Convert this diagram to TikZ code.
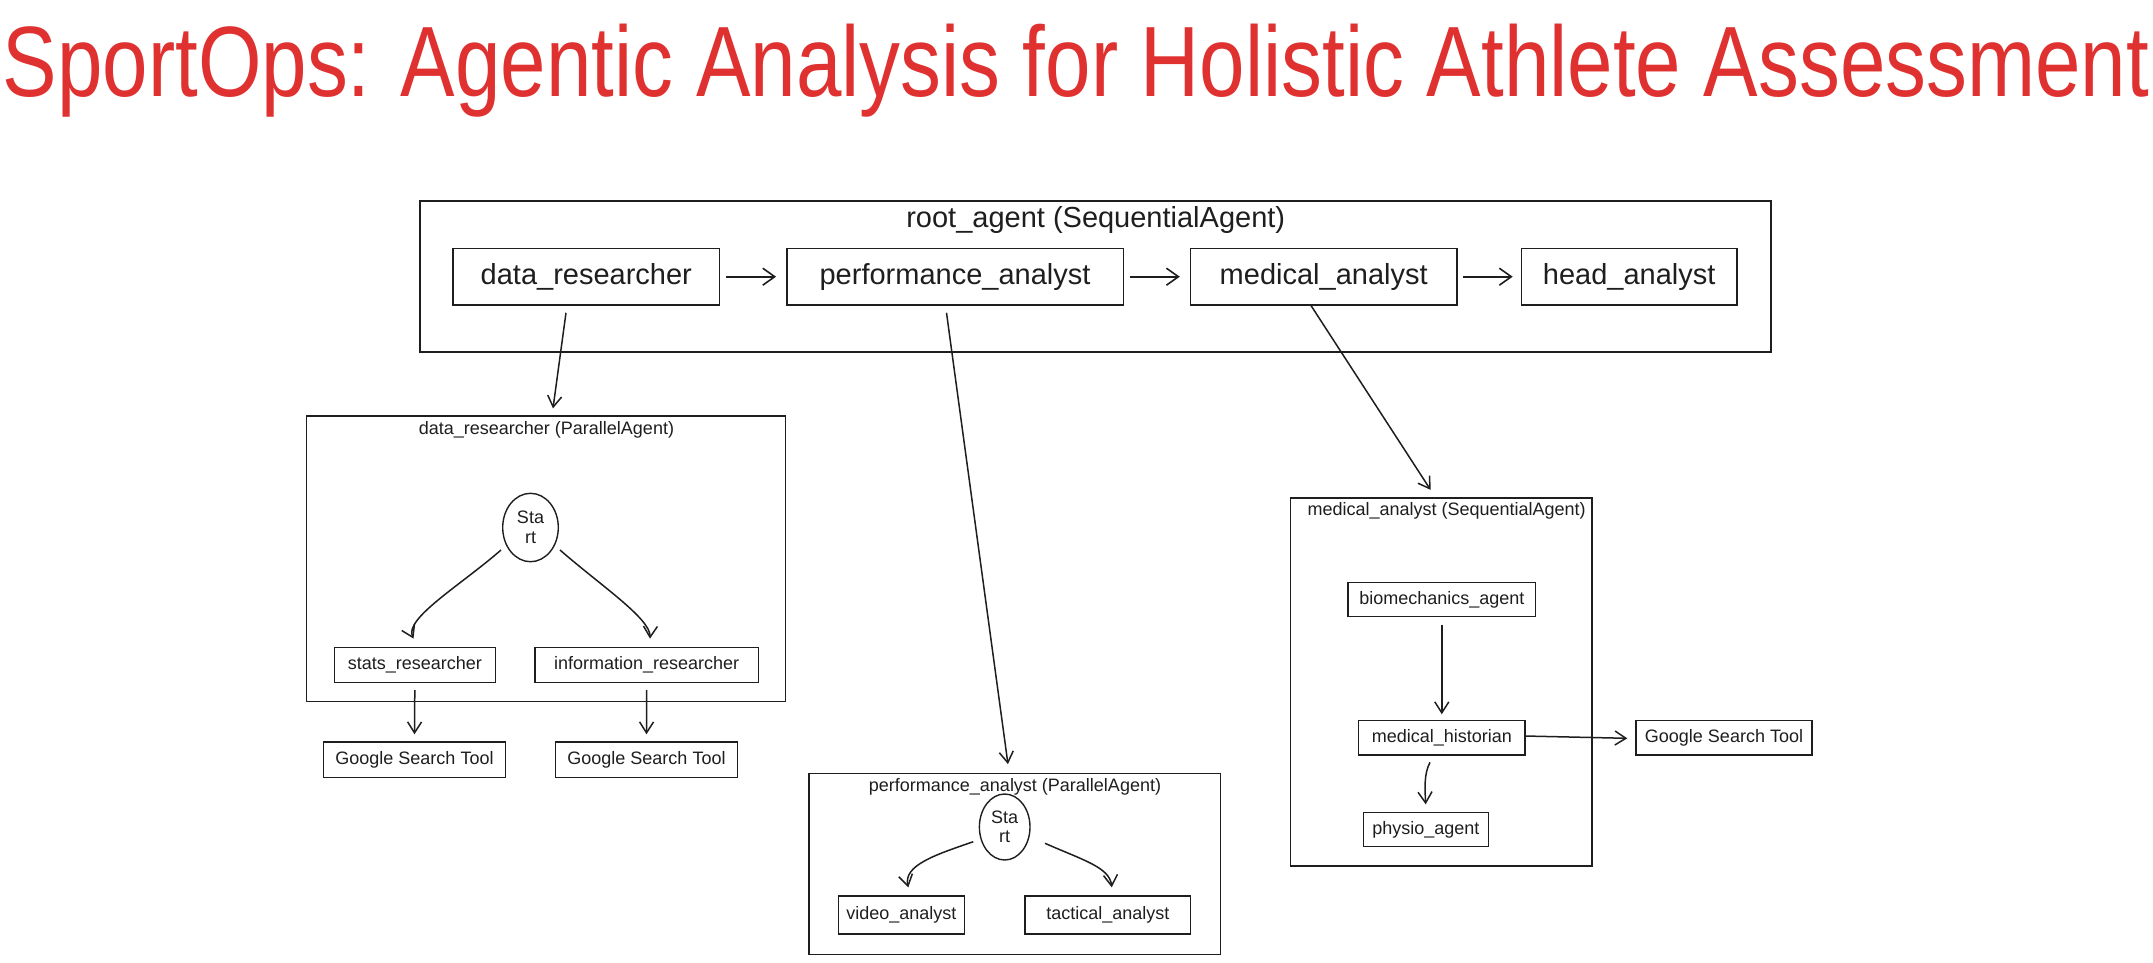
\documentclass[tikz,border=0pt]{standalone}
\usepackage{fontspec}
\usepackage{graphicx}
\setmainfont{Liberation Sans}
\usetikzlibrary{arrows.meta,calc,shapes.geometric}
\definecolor{exred}{RGB}{224,49,49}
\definecolor{ink}{RGB}{30,30,30}
\begin{document}
\begin{tikzpicture}[x=1pt,y=-1pt,
  every node/.style={text=ink},
  box/.style={draw=ink, line width=1.4pt, inner sep=0pt, anchor=center},
  big/.style={font=\fontsize{29}{32}\selectfont},
  small/.style={font=\fontsize{18}{20}\selectfont},
  startnode/.style={ellipse, draw=ink, line width=1.4pt, inner sep=0pt, align=center, font=\fontsize{18}{19.5}\selectfont},
  arr/.style={draw=ink, line width=1.6pt, -{Straight Barb[length=12pt,width=17pt,line width=1.6pt]}},
  sarr/.style={draw=ink, line width=1.5pt, -{Straight Barb[length=11pt,width=14pt,line width=1.5pt]}}
]
\useasboundingbox (0,0) rectangle (2153,962);

% title
\node[anchor=base, text=exred, inner sep=0pt] (title) at (1076,96)
  {\scalebox{0.817}[1]{\fontsize{100}{100}\selectfont SportOps: Agentic Analysis for Holistic Athlete Assessment}};

% root container
\node[box, line width=2pt, minimum width=1351pt, minimum height=151pt] (root) at (1095.75,276) {};
\node[big] (rootlbl) at (1095.75,220) {root\_agent (SequentialAgent)};
\node[box, big, minimum width=266.4pt, minimum height=56.3pt] (dr1) at (586.3,276.7) {data\_researcher};
\node[box, big, minimum width=336.4pt, minimum height=56.3pt] (pa1) at (955,276.7) {performance\_analyst};
\node[box, big, minimum width=266.4pt, minimum height=56.3pt] (ma1) at (1323.7,276.7) {medical\_analyst};
\node[box, big, minimum width=215.6pt, minimum height=56.3pt] (ha1) at (1629.2,276.7) {head\_analyst};
\draw[arr] ($(dr1.east)+(6,0)$) -- ($(pa1.west)+(-10,0)$);
\draw[arr] ($(pa1.east)+(6,0)$) -- ($(ma1.west)+(-10,0)$);
\draw[arr] ($(ma1.east)+(5,0)$) -- ($(ha1.west)+(-8,0)$);

% data_researcher container
\node[box, minimum width=479.2pt, minimum height=285.7pt] (drbox) at (545.8,558.9) {};
\node[small] (drlbl) at (546.5,430) {data\_researcher (ParallelAgent)};
\node[startnode, minimum width=55.6pt, minimum height=68.4pt] (s1) at (530.5,527.5) {Sta\\rt};
\node[box, small, minimum width=161pt, minimum height=35.4pt] (stats) at (414.8,665) {stats\_researcher};
\node[box, small, minimum width=223.3pt, minimum height=35.4pt] (info) at (646.7,665) {information\_researcher};
\node[box, small, minimum width=182.3pt, minimum height=35.7pt] (g1) at (414.5,759.8) {Google Search Tool};
\node[box, small, minimum width=182.3pt, minimum height=35.7pt] (g2) at (646.5,759.8) {Google Search Tool};
\draw[sarr] ($(stats.south)+(0,6.6)$) -- ($(g1.north)+(0,-7)$);
\draw[sarr] ($(info.south)+(0,6.6)$) -- ($(g2.north)+(0,-7)$);
\draw[sarr] ($(s1)+(-29.5,22.5)$) .. controls ($(s1)+(-69.5,57.5)$) and ($(stats.north)+(-11,-28)$) .. ($(stats.north)+(-1.3,-8)$);
\draw[sarr] ($(s1)+(29.5,22.5)$) .. controls ($(s1)+(69.5,57.5)$) and ($(info.north)+(4,-28)$) .. ($(info.north)+(3.3,-8)$);

% performance_analyst container
\node[box, minimum width=411.9pt, minimum height=181.4pt] (pabox) at (1014.75,864) {};
\node[small] (palbl) at (1015,786.7) {performance\_analyst (ParallelAgent)};
\node[startnode, minimum width=50.6pt, minimum height=66pt] (s2) at (1004.7,827) {Sta\\rt};
\node[box, small, minimum width=126pt, minimum height=38pt] (video) at (901.3,915) {video\_analyst};
\node[box, small, minimum width=165.7pt, minimum height=38pt] (tact) at (1107.8,915) {tactical\_analyst};
\draw[sarr] ($(s2)+(-31.4,14.7)$) .. controls ($(s2)+(-70,28)$) and ($(video.north)+(2,-30)$) .. ($(video.north)+(7,-8)$);
\draw[sarr] ($(s2)+(40.3,16.3)$) .. controls ($(s2)+(78,33)$) and ($(tact.north)+(2,-28)$) .. ($(tact.north)+(3.9,-8)$);

% medical_analyst container
\node[box, minimum width=301.3pt, minimum height=368pt] (mabox) at (1441.35,682) {};
\node[small] (malbl) at (1446.7,510.7) {medical\_analyst (SequentialAgent)};
\node[box, small, minimum width=187.8pt, minimum height=34pt] (bio) at (1441.8,599.7) {biomechanics\_agent};
\node[box, small, minimum width=166.4pt, minimum height=34.3pt] (hist) at (1441.8,737.8) {medical\_historian};
\node[box, small, minimum width=125.4pt, minimum height=34.4pt] (phys) at (1425.9,829.5) {physio\_agent};
\node[box, small, minimum width=176pt, minimum height=34.3pt] (g3) at (1724,737.8) {Google Search Tool};
\draw[sarr] ($(bio.south)+(0,7.3)$) -- ($(hist.north)+(0,-5.7)$);
\draw[sarr] ($(hist.south)+(-11.8,6.7)$) .. controls ($(hist.south)+(-18,18)$) and ($(phys.north)+(-1,-22)$) .. ($(phys.north)+(-0.2,-7.3)$);
\draw[sarr] ($(hist.east)+(-1,-1.8)$) -- ($(g3.west)+(-8,0.5)$);

% connectors from root row
\draw[sarr] ($(dr1.south)+(-20.3,7.2)$) -- ($(drbox.north)+(7.2,-7)$);
\draw[sarr] ($(pa1.south)+(-8.5,7.2)$) -- ($(pabox.north)+(-6.8,-8.5)$);
\draw[sarr] ($(ma1.south)+(-12.7,0)$) -- ($(mabox.north)+(-10.8,-7.5)$);
\end{tikzpicture}
\end{document}
